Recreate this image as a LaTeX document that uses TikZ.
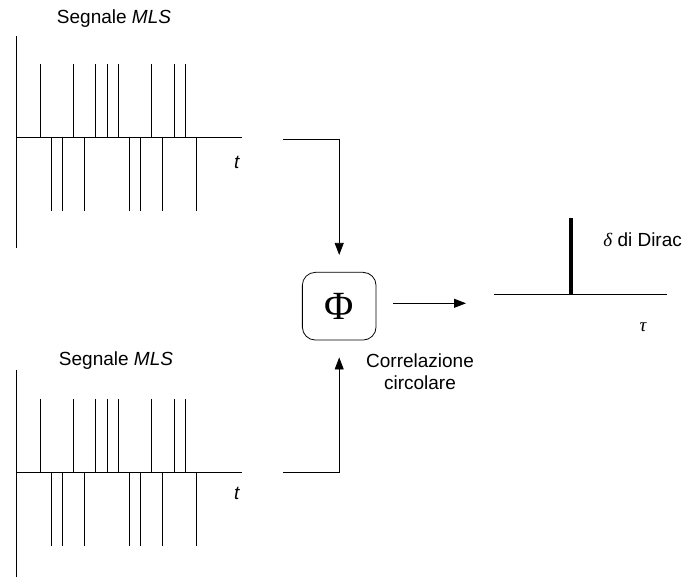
\documentclass[tikz,border=0pt]{standalone}
\usepackage{fontspec}
\setmainfont{Liberation Sans}
\newfontfamily\greekfont{Liberation Serif}
\usetikzlibrary{arrows.meta}

\begin{document}
\begin{tikzpicture}[
		x=1pt, y=-1pt,
		line width=0.8pt,
		every node/.style={font=\fontsize{19}{22}\selectfont, inner sep=0pt},
		pulse/.style={line width=0.8pt},
		flow/.style={-{Triangle[length=12pt,width=9pt]}},
		corr box/.style={draw, rounded corners=13pt, minimum width=73.7pt, minimum height=67.7pt},
		desc/.style={anchor=west}
		]
	\useasboundingbox (0,0) rectangle (685,577);

	% Top MLS signal
	\draw (16,36) -- (16,248);
	\draw (16,137.7) -- (242,137.7);
	\node (top title) at (114,18.5) {Segnale \textit{MLS}};
	\node (top t) at (237,162) {\textit{t}};
	\foreach \k/\s in {0/1, 1/-1, 2/-1, 3/1, 4/-1, 5/1, 6/1, 7/1, 8/-1, 9/-1, 10/1, 11/-1, 12/1, 13/1, 14/-1}{
		\draw[pulse] ({40+11.16*\k},137.7) -- ++(0,{-73.5*\s});
	}
	\coordinate (top out) at (283,139.3);

	% Bottom MLS signal
	\begin{scope}[shift={(0,334.3)}]
		\draw (16,36) -- (16,242.5);
		\draw (16,137.7) -- (242,137.7);
		\node (bottom title) at (116,26.7) {Segnale \textit{MLS}};
		\node (bottom t) at (237,158.7) {\textit{t}};
		\foreach \k/\s in {0/1, 1/-1, 2/-1, 3/1, 4/-1, 5/1, 6/1, 7/1, 8/-1, 9/-1, 10/1, 11/-1, 12/1, 13/1, 14/-1}{
			\draw[pulse] ({40+11.16*\k},137.7) -- ++(0,{-73.5*\s});
		}
		\coordinate (bottom out) at (283,138.4);
	\end{scope}

	% Circular correlation
	\node[corr box] (phi) at (339.2,306.2) {\greekfont\fontsize{40}{40}\selectfont Φ};
	\node[align=center] (corr label) at (420,372) {Correlazione\\circolare};
	\draw[flow, shorten >=17pt] (top out) -| (phi.north);
	\draw[flow, shorten >=17pt] (bottom out) -| (phi.south);

	% Dirac delta
	\coordinate (dirac in) at (466,303.3);
	\draw[flow] ([xshift=16.7pt,yshift=2.9pt]phi.east) -- (dirac in);
	\draw (494,294.3) coordinate (dirac axis) -- (667.3,294.3);
	\draw[line width=4.7pt] (571,294.3) -- (571,218.3);
	\node[desc] (dirac label) at (603,240) {{\greekfont\itshape δ} di Dirac};
	\node (tau) at (643,327) {\greekfont\itshape τ};

\end{tikzpicture}
\end{document}
